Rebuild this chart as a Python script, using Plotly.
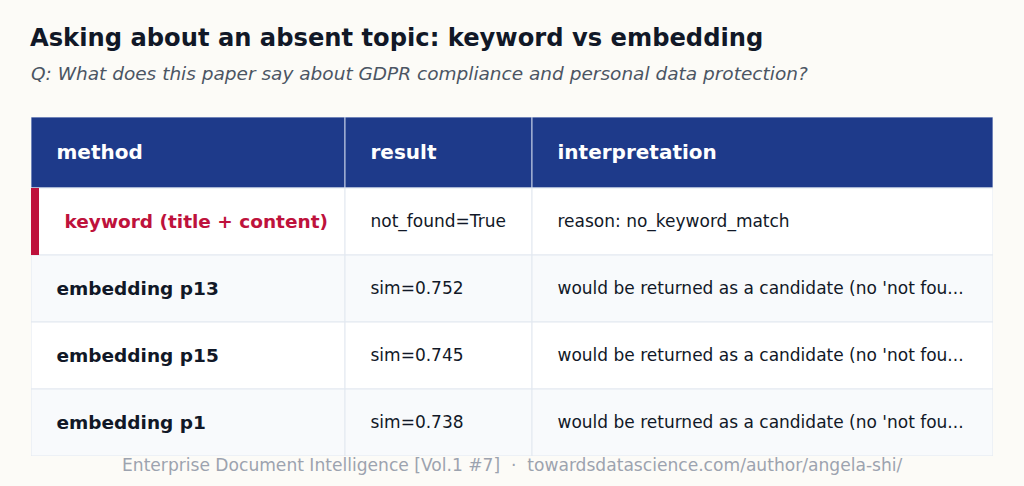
import plotly.graph_objects as go

W, H = 1024, 486

title = "Asking about an absent topic: keyword vs embedding"
subtitle = "Q: What does this paper say about GDPR compliance and personal data protection?"
footer = "Enterprise Document Intelligence [Vol.1 #7]  \u00b7  towardsdatascience.com/author/angela-shi/"

columns = ["method", "result", "interpretation"]
methods = ["keyword (title + content)", "embedding p13", "embedding p15", "embedding p1"]
results = ["not_found=True", "sim=0.752", "sim=0.745", "sim=0.738"]
interpretations = [
    "reason: no_keyword_match",
    "would be returned as a candidate (no 'not fou...",
    "would be returned as a candidate (no 'not fou...",
    "would be returned as a candidate (no 'not fou...",
]
highlight_row = 0

# table geometry (pixels)
tbl_left, tbl_top = 31, 117
header_h, row_h = 71, 67
col_widths = [314, 187, 461]
text_pad = 25.5
text_dy = 1.5
bar_w = 8

NAVY = "#1E3A8A"
RED = "#BE123C"
INK = "#111827"
GRID = "#E2E8F0"
FONT = "DejaVu Sans"

n = len(methods)
tbl_w = sum(col_widths)
tbl_h = header_h + n * row_h
col_left = [sum(col_widths[:i]) for i in range(len(col_widths))]
row_mid = [header_h + i * row_h + row_h / 2 + text_dy for i in range(n)]
row_fill = ["#FFFFFF" if i % 2 == 0 else "#F8FAFC" for i in range(n)]

fig = go.Figure()

# header cells
for j, c in enumerate(columns):
    fig.add_shape(type="rect", x0=col_left[j], x1=col_left[j] + col_widths[j],
                  y0=0, y1=header_h, fillcolor=NAVY,
                  line=dict(color="#C3CDE6", width=1), layer="below")
# body cells
for i in range(n):
    for j in range(len(columns)):
        fig.add_shape(type="rect", x0=col_left[j], x1=col_left[j] + col_widths[j],
                      y0=header_h + i * row_h, y1=header_h + (i + 1) * row_h,
                      fillcolor=row_fill[i], line=dict(color=GRID, width=1), layer="below")
# highlight marker
fig.add_shape(type="rect", x0=0, x1=bar_w,
              y0=header_h + highlight_row * row_h, y1=header_h + (highlight_row + 1) * row_h,
              fillcolor=RED, line_width=0, layer="above")

# header text
fig.add_trace(go.Scatter(
    x=[l + text_pad for l in col_left], y=[header_h / 2 + text_dy] * len(columns),
    text=["<b>" + c + "</b>" for c in columns], mode="text",
    textposition="middle right", textfont=dict(family=FONT, size=20, color="white"),
    hoverinfo="skip", cliponaxis=False,
))
# method column
fig.add_trace(go.Scatter(
    x=[text_pad + (bar_w if i == highlight_row else 0) for i in range(n)], y=row_mid,
    text=["<b>" + m + "</b>" for m in methods], mode="text",
    textposition="middle right",
    textfont=dict(family=FONT, size=18.5,
                  color=[RED if i == highlight_row else INK for i in range(n)]),
    hoverinfo="skip", cliponaxis=False,
))
# result + interpretation columns
for j, vals in ((1, results), (2, interpretations)):
    fig.add_trace(go.Scatter(
        x=[col_left[j] + text_pad] * n, y=row_mid, text=vals, mode="text",
        textposition="middle right", textfont=dict(family=FONT, size=17, color=INK),
        hoverinfo="skip", cliponaxis=False,
    ))

fig.add_annotation(text="<b>" + title + "</b>", x=28 / W, y=1 - 38 / H,
                   xref="paper", yref="paper", xanchor="left", yanchor="middle",
                   showarrow=False, font=dict(family=FONT, size=24.2, color=INK))
fig.add_annotation(text="<i>" + subtitle + "</i>", x=29 / W, y=1 - 73 / H,
                   xref="paper", yref="paper", xanchor="left", yanchor="middle",
                   showarrow=False, font=dict(family=FONT, size=18.5, color="#4B5563"))
fig.add_annotation(text=footer, x=512 / W, y=1 - 465 / H,
                   xref="paper", yref="paper", xanchor="center", yanchor="middle",
                   showarrow=False, font=dict(family=FONT, size=17.1, color="#9CA3AF"))

fig.update_layout(
    width=W, height=H,
    margin=dict(l=0, r=0, t=0, b=0),
    paper_bgcolor="#FCFBF7",
    plot_bgcolor="rgba(0,0,0,0)",
    showlegend=False,
    xaxis=dict(domain=[tbl_left / W, (tbl_left + tbl_w) / W], range=[0, tbl_w],
               visible=False, fixedrange=True),
    yaxis=dict(domain=[1 - (tbl_top + tbl_h) / H, 1 - tbl_top / H], range=[tbl_h, 0],
               visible=False, fixedrange=True),
)

fig.write_html("out.html", config={"displayModeBar": False},
               post_script="document.body.style.margin='0';")
